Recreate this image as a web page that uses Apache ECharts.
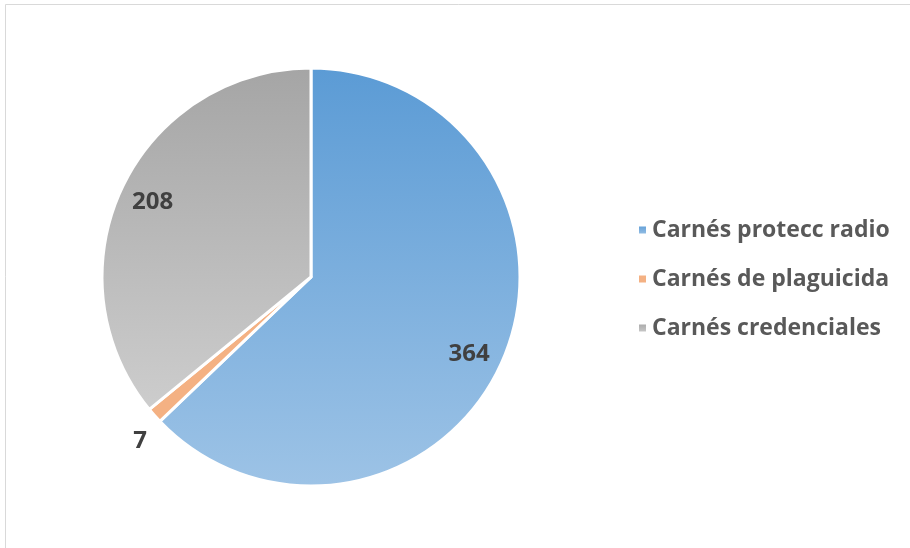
<!DOCTYPE html>
<html><head><meta charset="utf-8">
<script src="https://cdn.jsdelivr.net/npm/echarts@6/dist/echarts.min.js"></script>
<style>html,body{margin:0;padding:0;background:#fff}#c{width:910px;height:548px}</style>
</head><body><div id="c"></div>
<script>
const categories = ['Carnés protecc radio', 'Carnés de plaguicida', 'Carnés credenciales'];
const values = [364, 7, 208];
const colorsTop = ['#5B9BD5', '#F4B183', '#A5A5A5'];
const colorsBottom = ['#9DC3E6', '#F4B183', '#CDCDCD'];

const chart = echarts.init(document.getElementById('c'), null, {renderer: 'canvas'});
const grad = (a, b) => new echarts.graphic.LinearGradient(0, 0, 0, 1, [{offset: 0, color: a}, {offset: 1, color: b}]);
const mainData = categories.map((n, i) => ({
  name: n, value: values[i],
  itemStyle: {color: grad(colorsTop[i], colorsBottom[i])}
}));
const labelFont = {fontFamily: 'Open Sans', fontWeight: 'bold', fontSize: 24, color: '#404040'};
const bigLabels = categories.map((n, i) => ({name: n, value: values[i],
  label: {show: values[i] >= 20, offset: i === 0 ? [-5, 7] : [2, 1]}}));
const smallLabels = categories.map((n, i) => ({name: n, value: values[i],
  label: {show: values[i] < 20, offset: [11, 3]}}));
const overlay = (radius, data) => ({
  type: 'pie', center: [311, 277], radius: radius, startAngle: 90, clockwise: true,
  silent: true, legendHoverLink: false,
  itemStyle: {color: 'rgba(0,0,0,0)', borderWidth: 0},
  label: Object.assign({position: 'inside', formatter: '{c}'}, labelFont),
  labelLine: {show: false},
  data: data
});
chart.setOption({
  animation: false,
  backgroundColor: '#fff',
  graphic: [{type: 'rect', shape: {x: 5.5, y: 4.5, width: 1000, height: 1000},
    style: {fill: 'none', stroke: '#D9D9D9', lineWidth: 1}, silent: true}],
  legend: {
    orient: 'vertical', left: 632, top: 213, itemGap: 25,
    itemWidth: 9, itemHeight: 9, icon: 'rect',
    textStyle: {fontFamily: 'Open Sans', fontWeight: 'bold', fontSize: 23, lineHeight: 24, color: '#595959'},
    data: categories
  },
  series: [{
    type: 'pie', center: [311, 277], radius: [0, 209], startAngle: 90, clockwise: true,
    itemStyle: {borderColor: '#fff', borderWidth: 3},
    label: {show: false}, labelLine: {show: false},
    data: mainData
  },
  overlay([140, 209], bigLabels),
  overlay([222, 258], smallLabels)
  ]
});
</script></body></html>
